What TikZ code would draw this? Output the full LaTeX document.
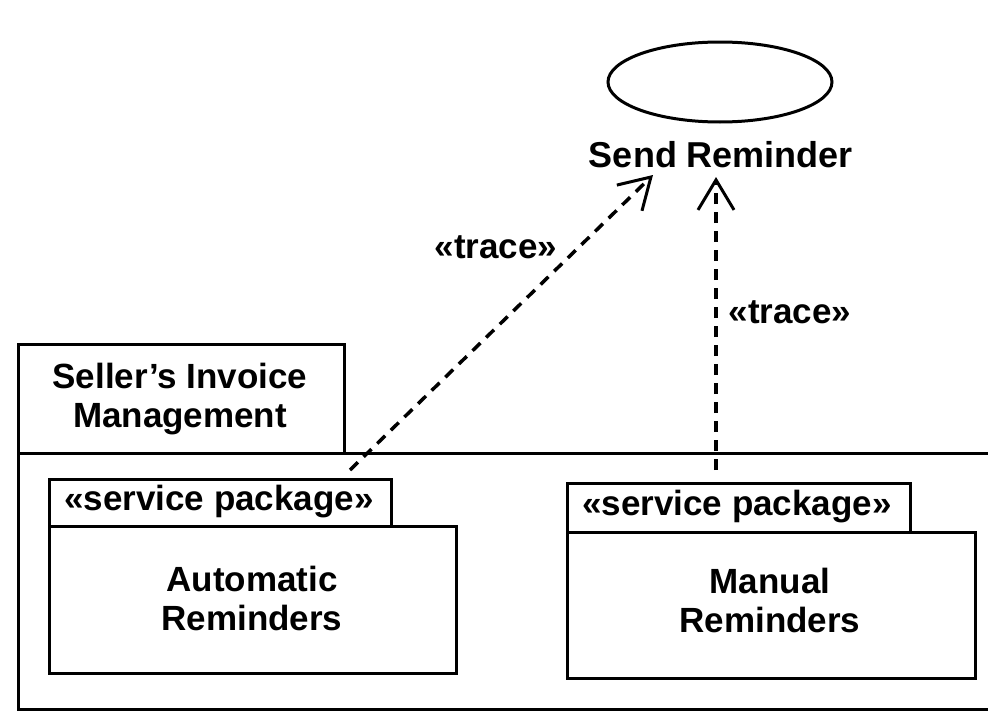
\documentclass[tikz,border=0pt]{standalone}
\usepackage{fontspec}
\setmainfont{Liberation Sans}
\usetikzlibrary{shapes.geometric,arrows.meta}
\begin{document}
\begin{tikzpicture}[x=1pt,y=-1pt,
  box/.style={draw, line width=3pt, inner sep=0pt, anchor=north west},
  lbl/.style={font=\fontsize{35}{39}\selectfont\bfseries, align=center, inner sep=0pt},
  tracearrow/.style={line width=3.5pt, dash pattern=on 11pt off 8pt,
    -{Straight Barb[length=30pt,width=36pt,line width=3pt]}}]
\useasboundingbox (0,0) rectangle (988,712);
% use case
\node[draw, ellipse, line width=3pt, minimum width=224pt, minimum height=80pt] (uc) at (720,82) {};
\node[lbl, font=\fontsize{36}{40}\selectfont\bfseries] (sr) at (721,155) {Send Reminder};
% outer package
\node[box, minimum width=326pt, minimum height=109pt] (outertab) at (17,343) {};
\node[lbl] (outername) at (180,399) {Seller’s Invoice\\Management};
\node[box, minimum width=980pt, minimum height=256pt] (outerbody) at (17,452) {};
% left inner package
\node[box, minimum width=342pt, minimum height=47pt] (ltab) at (48,478) {};
\node[lbl] (lstereo) at (219,502) {«service package»};
\node[box, minimum width=407pt, minimum height=147pt] (lbody) at (48,525) {};
\node[lbl] (lname) at (252,598) {Automatic\\Reminders};
% right inner package
\node[box, minimum width=343pt, minimum height=49pt] (rtab) at (566,482) {};
\node[lbl] (rstereo) at (737,507) {«service package»};
\node[box, minimum width=408pt, minimum height=146pt] (rbody) at (566,531) {};
\node[lbl] (rname) at (770,600) {Manual\\Reminders};
% trace dependencies
\coordinate (a1) at (350,470);
\coordinate (a1tip) at (653,175);
\coordinate (a2) at (716,470);
\coordinate (a2tip) at (716,177);
\draw[tracearrow] (a1) -- (a1tip);
\draw[tracearrow] (a2) -- (a2tip);
\node[lbl] (t1) at (496,247) {«trace»};
\node[lbl] (t2) at (790,312) {«trace»};
\end{tikzpicture}
\end{document}
